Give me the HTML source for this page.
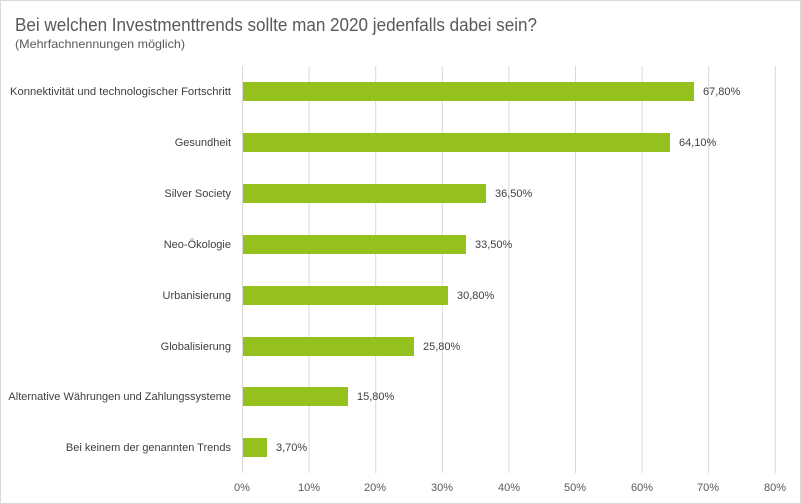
<!DOCTYPE html>
<html><head><style>
html,body{margin:0;padding:0;background:#fff}
svg{display:block;font-family:"Liberation Sans",Arial,sans-serif}
</style></head><body>
<svg width="801" height="504" xmlns="http://www.w3.org/2000/svg">
<rect x="0.5" y="0.5" width="800" height="503" fill="#fff" stroke="#d9d9d9"/>
<text x="15" y="31" font-size="18" fill="#595959" textLength="522" lengthAdjust="spacingAndGlyphs">Bei welchen Investmenttrends sollte man 2020 jedenfalls dabei sein?</text>
<text x="15" y="48" font-size="12" fill="#595959" textLength="170" lengthAdjust="spacingAndGlyphs">(Mehrfachnennungen möglich)</text>
<g stroke="#d9d9d9" stroke-width="1">
<line x1="242.5" y1="66" x2="242.5" y2="473"/>
<line x1="309.1" y1="66" x2="309.1" y2="473"/>
<line x1="375.7" y1="66" x2="375.7" y2="473"/>
<line x1="442.3" y1="66" x2="442.3" y2="473"/>
<line x1="508.9" y1="66" x2="508.9" y2="473"/>
<line x1="575.5" y1="66" x2="575.5" y2="473"/>
<line x1="642.1" y1="66" x2="642.1" y2="473"/>
<line x1="708.7" y1="66" x2="708.7" y2="473"/>
<line x1="775.3" y1="66" x2="775.3" y2="473"/>
</g>
<g font-size="11" fill="#595959" text-anchor="middle">
<text x="242" y="491">0%</text><text x="309" y="491">10%</text><text x="375" y="491">20%</text><text x="442" y="491">30%</text><text x="509" y="491">40%</text><text x="575" y="491">50%</text><text x="642" y="491">60%</text><text x="708" y="491">70%</text><text x="775" y="491">80%</text>
</g>
<g fill="#95c11f">
<rect x="243" y="82" width="451" height="19"/>
<rect x="243" y="133" width="427" height="19"/>
<rect x="243" y="184" width="243" height="19"/>
<rect x="243" y="235" width="223" height="19"/>
<rect x="243" y="286" width="205" height="19"/>
<rect x="243" y="337" width="171" height="19"/>
<rect x="243" y="387" width="105" height="19"/>
<rect x="243" y="438" width="24" height="19"/>
</g>
<g font-size="11" fill="#404040">
<text x="703" y="95">67,80%</text>
<text x="679" y="146">64,10%</text>
<text x="495" y="197">36,50%</text>
<text x="475" y="248">33,50%</text>
<text x="457" y="299">30,80%</text>
<text x="423" y="350">25,80%</text>
<text x="357" y="400">15,80%</text>
<text x="276" y="451">3,70%</text>
</g>
<g font-size="11" fill="#404040" text-anchor="end">
<text x="231" y="95" textLength="221" lengthAdjust="spacingAndGlyphs">Konnektivität und technologischer Fortschritt</text>
<text x="231" y="146">Gesundheit</text>
<text x="231" y="197">Silver Society</text>
<text x="231" y="248">Neo-Ökologie</text>
<text x="231" y="299">Urbanisierung</text>
<text x="231" y="350">Globalisierung</text>
<text x="231" y="400">Alternative Währungen und Zahlungssysteme</text>
<text x="231" y="451">Bei keinem der genannten Trends</text>
</g>
</svg>
</body></html>
